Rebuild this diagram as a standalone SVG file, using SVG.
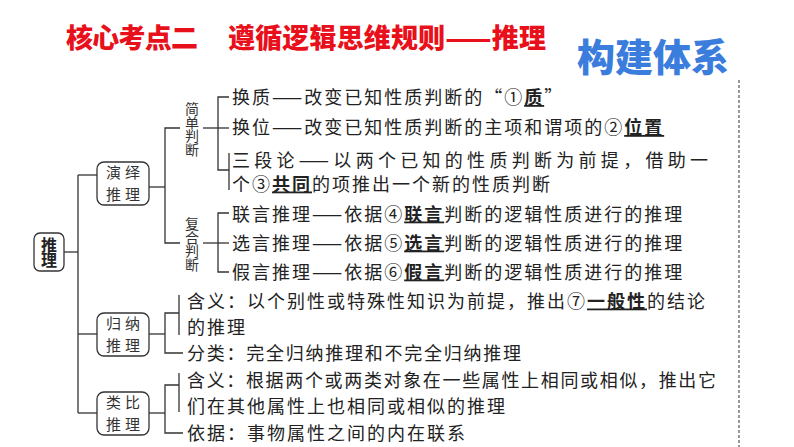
<svg xmlns="http://www.w3.org/2000/svg" width="794" height="447" viewBox="0 0 794 447">
<style>
.t{font-family:"Noto Sans CJK SC","Noto Sans",sans-serif;font-size:18px;fill:#222;letter-spacing:2px}
.b{font-family:"Noto Sans CJK SC","Noto Sans",sans-serif;font-size:15px;fill:#333;letter-spacing:4px}
.v{font-family:"Noto Sans CJK SC","Noto Sans",sans-serif;font-size:14px;fill:#333;writing-mode:vertical-rl;letter-spacing:-0.5px}
.u{font-weight:bold;text-decoration:underline}
.box{fill:#fff;stroke:#333;stroke-width:1.3}
.ln{fill:none;stroke:#333;stroke-width:1.3}
.title{font-family:"Noto Sans CJK SC","Noto Sans",sans-serif;font-weight:900;font-size:27px;fill:#e8101a}
</style>
<rect width="794" height="447" fill="#fff"/>
<g id="header">
<text class="title" x="66" y="48" textLength="132" lengthAdjust="spacing">核心考点二</text>
<text class="title" x="228" y="48" textLength="318" lengthAdjust="spacing">遵循逻辑思维规则——推理</text>
<text x="577" y="71" font-family="'Noto Sans CJK SC','Noto Sans',sans-serif" font-weight="900" font-size="38" fill="#3b7ddd">构建体系</text>
<line x1="739" y1="80" x2="739" y2="447" stroke="#777" stroke-width="1.5" stroke-dasharray="3,2"/>
</g>
<g id="connectors" class="ln">
<polyline points="64,252 78,252"/>
<polyline points="78,175 78,413"/>
<polyline points="78,175 97,175"/>
<polyline points="78,334 97,334"/>
<polyline points="78,413 97,413"/>
<polyline points="149,187 165,187"/>
<polyline points="180,128 165,128 165,243 180,243"/>
<polyline points="203,128 218,128"/>
<polyline points="229,97 218,97 218,170 229,170"/>
<polyline points="218,128 229,128"/>
<polyline points="229,153 229,190"/>
<polyline points="203,243 218,243"/>
<polyline points="229,213 218,213 218,272 229,272"/>
<polyline points="218,243 229,243"/>
<polyline points="149,334 165,334"/>
<polyline points="179,313 165,313 165,353 183,353"/>
<polyline points="179,295 179,335"/>
<polyline points="149,413 165,413"/>
<polyline points="179,385 165,385 165,433 183,433"/>
<polyline points="179,373 179,412"/>
</g>
<g id="root">
<rect class="box" x="34" y="233" width="30" height="38" rx="6"/>
<text x="49" y="237" style="writing-mode:vertical-rl" letter-spacing="-1" font-family="'Noto Sans CJK SC',sans-serif" font-weight="bold" font-size="16" fill="#222">推理</text>
</g>
<g id="deduction">
<rect class="box" x="97" y="162" width="52" height="43" rx="7"/>
<text class="b"><tspan x="106" y="178">演绎</tspan><tspan x="106" y="200">推理</tspan></text>
</g>
<g id="induction">
<rect class="box" x="97" y="313" width="52" height="43" rx="7"/>
<text class="b"><tspan x="106" y="328.5">归纳</tspan><tspan x="106" y="350.5">推理</tspan></text>
</g>
<g id="analogy">
<rect class="box" x="97" y="392" width="52" height="43" rx="7"/>
<text class="b"><tspan x="106" y="407.5">类比</tspan><tspan x="106" y="429.5">推理</tspan></text>
</g>
<g id="simple">
<text class="v" x="192" y="102">简单判断</text>
</g>
<g id="compound">
<text class="v" x="192" y="217">复合判断</text>
</g>
<g id="simple-items">
<text class="t" x="232" y="104">换质——改变已知性质判断的“①<tspan class="u">质</tspan>”</text>
<text class="t" x="232" y="134">换位——改变已知性质判断的主项和谓项的②<tspan class="u">位置</tspan></text>
<text class="t" x="232" y="166.5" textLength="478" lengthAdjust="spacing">三段论——以两个已知的性质判断为前提，借助一</text>
<text class="t" x="232" y="190.5">个③<tspan class="u">共同</tspan>的项推出一个新的性质判断</text>
</g>
<g id="compound-items">
<text class="t" x="232" y="220.5">联言推理——依据④<tspan class="u">联言</tspan>判断的逻辑性质进行的推理</text>
<text class="t" x="232" y="249.5">选言推理——依据⑤<tspan class="u">选言</tspan>判断的逻辑性质进行的推理</text>
<text class="t" x="232" y="278.5">假言推理——依据⑥<tspan class="u">假言</tspan>判断的逻辑性质进行的推理</text>
</g>
<g id="induction-items">
<text class="t" x="187" y="307.5" textLength="520" lengthAdjust="spacing">含义：以个别性或特殊性知识为前提，推出⑦<tspan class="u">一般性</tspan>的结论</text>
<text class="t" x="187" y="333.5">的推理</text>
<text class="t" x="187" y="359.5" textLength="336" lengthAdjust="spacing">分类：完全归纳推理和不完全归纳推理</text>
</g>
<g id="analogy-items">
<text class="t" x="187" y="386.5" textLength="531" lengthAdjust="spacing">含义：根据两个或两类对象在一些属性上相同或相似，推出它</text>
<text class="t" x="187" y="412.5">们在其他属性上也相同或相似的推理</text>
<text class="t" x="187" y="439.5">依据：事物属性之间的内在联系</text>
</g>
</svg>
